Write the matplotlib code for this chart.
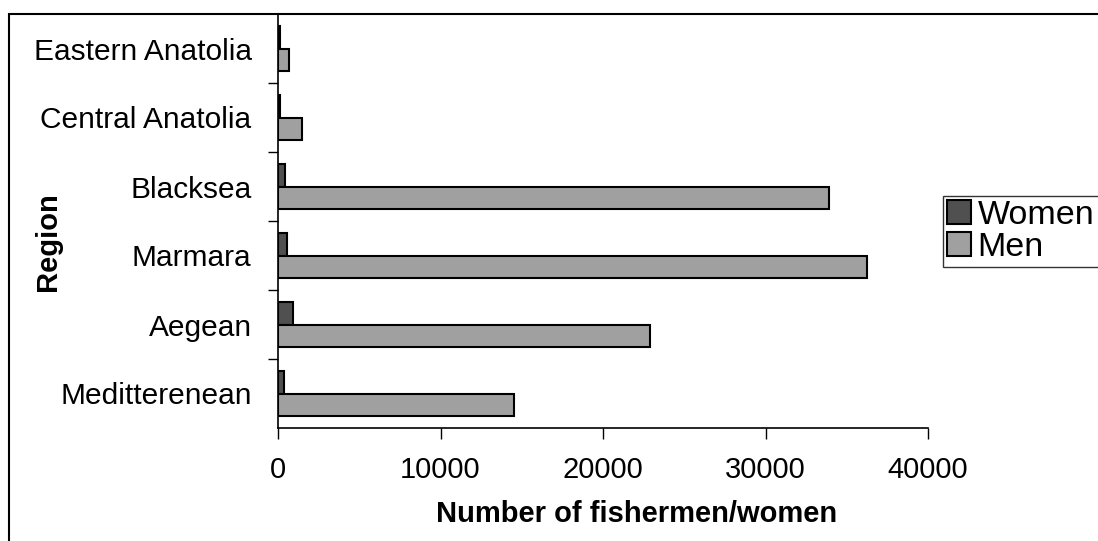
import numpy as np
import matplotlib
matplotlib.use('Agg')
import matplotlib.pyplot as plt
from matplotlib.patches import Rectangle

plt.rcParams['font.family'] = ['Liberation Sans', 'DejaVu Sans']

# Data (top to bottom)
regions = ['Eastern Anatolia', 'Central Anatolia', 'Blacksea', 'Marmara', 'Aegean', 'Meditterenean']
women = [120, 100, 450, 570, 940, 350]
men = [650, 1500, 33900, 36250, 22900, 14550]
xticks = [0, 10000, 20000, 30000, 40000]

fig = plt.figure(figsize=(10.98, 5.41), dpi=100)
ax = fig.add_axes([278 / 1098, 1 - 428 / 541, 650 / 1098, 414 / 541])

y = np.arange(len(regions))
h = 0.33
ax.barh(y - h / 2, women, height=h, color='#505050', edgecolor='black', linewidth=1.5, label='Women')
ax.barh(y + h / 2, men, height=h, color='#a0a0a0', edgecolor='black', linewidth=1.5, label='Men')

ax.set_xlim(0, 40000)
ax.set_ylim(len(regions) - 0.5, -0.5)
ax.set_xticks(xticks)
ax.set_xticklabels([str(v) for v in xticks], fontsize=21)
ax.set_yticks(y)
ax.set_yticklabels(regions, fontsize=21.5)
ax.set_yticks(np.arange(0.5, len(regions) - 0.5, 1), minor=True)

ax.tick_params(axis='y', which='major', length=0, pad=19)
ax.tick_params(axis='y', which='minor', length=7, width=1, direction='out')
ax.tick_params(axis='x', length=8, width=1, direction='out', pad=12)

for side in ['top', 'right']:
    ax.spines[side].set_visible(False)
for side in ['left', 'bottom']:
    ax.spines[side].set_linewidth(1.2)

fig.text(637 / 1098, 1 - 522 / 541, 'Number of fishermen/women', fontsize=21,
         fontweight='bold', ha='center', va='baseline')
fig.text(48 / 1098, 1 - 242 / 541, 'Region', fontsize=21, fontweight='bold',
         rotation=90, ha='center', va='center')

leg = fig.legend(loc='upper left', bbox_to_anchor=(943 / 1098, 1 - 196 / 541),
                 fontsize=24.5, frameon=True, fancybox=False, handlelength=0.7,
                 handleheight=0.7, handletextpad=0.2, borderpad=0.12,
                 labelspacing=0.02, borderaxespad=0)
leg.get_frame().set_edgecolor('black')
leg.get_frame().set_linewidth(1)

# outer chart border
fig.patches.append(Rectangle((9 / 1098, -0.1), 1.2, 1.1 - 14 / 541,
                             transform=fig.transFigure, fill=False,
                             edgecolor='black', linewidth=1.5))

fig.savefig('out.png', dpi=100)
